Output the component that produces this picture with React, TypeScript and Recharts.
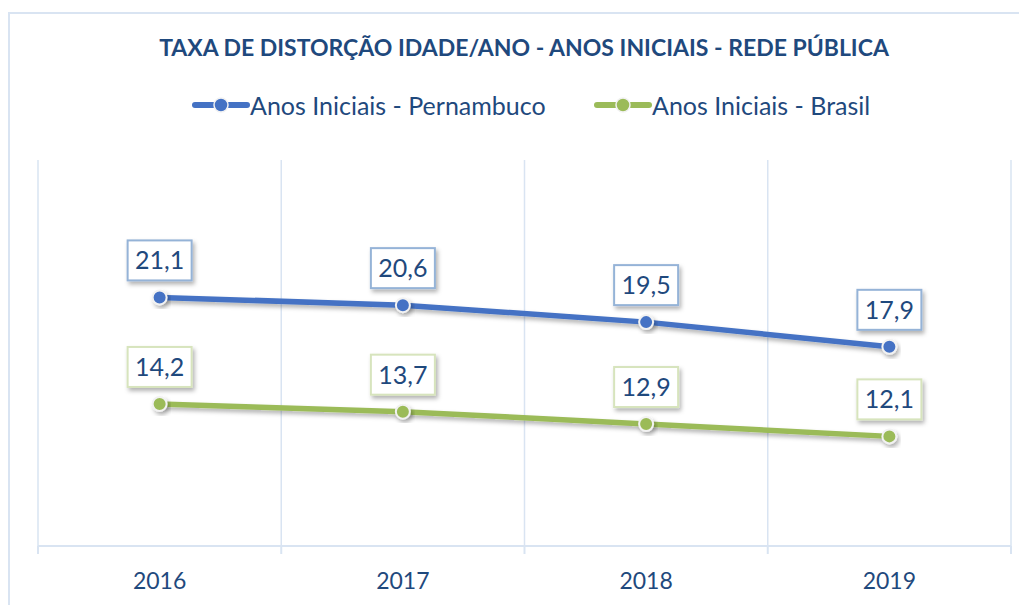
import { CartesianGrid, LabelList, Line, LineChart, XAxis, YAxis } from "recharts";

const years = ["2016", "2017", "2018", "2019"];
const pernambuco = [21.1, 20.6, 19.5, 17.9];
const brasil = [14.2, 13.7, 12.9, 12.1];
const gridTicks = [0, 1, 2, 3, 4];

const BLUE = "#4472c4";
const GREEN = "#9bbb59";
const TEXT = "#1f497d";
const GRID = "#d9e4f2";
const FONT = "Lato, 'Open Sans', sans-serif";

const data = years.map((year, i) => ({
	year,
	pe: pernambuco[i],
	br: brasil[i],
}));

const fmt = (v: number) => v.toFixed(1).replace(".", ",");

function makeLabel(border: string) {
	return (props: any) => {
		const { x, y, value } = props;
		const w = 64;
		const h = 40;
		return (
			<g>
				<rect
					x={x - w / 2}
					y={y - 17 - h}
					width={w}
					height={h}
					fill="#ffffff"
					stroke={border}
					strokeWidth={2}
					filter="url(#shadow)"
				/>
				<text
					x={x}
					y={y - 17 - h / 2 + 9}
					textAnchor="middle"
					fill={TEXT}
					fontSize={25}
					fontFamily={FONT}
				>
					{fmt(Number(value))}
				</text>
			</g>
		);
	};
}

function LegendItem({ color, label, width }: { color: string; label: string; width: number }) {
	return (
		<div style={{ display: "flex", alignItems: "center", width }}>
			<svg width={58} height={18}>
				<line x1={3} y1={9} x2={55} y2={9} stroke={color} strokeWidth={6} strokeLinecap="round" />
				<circle cx={29} cy={9} r={7} fill={color} stroke="#f2f2f2" strokeWidth={1.5} />
			</svg>
			<span style={{ fontSize: 25, color: TEXT, fontFamily: FONT }}>{label}</span>
		</div>
	);
}

export default function App() {
	return (
		<div
			style={{
				position: "relative",
				width: 1019,
				height: 597,
				fontFamily: FONT,
			}}
		>
			<div
				style={{
					position: "absolute",
					left: 0,
					top: 4,
					width: 1030,
					height: 600,
					borderTop: `2px solid ${GRID}`,
					borderLeft: `2px solid ${GRID}`,
				}}
			/>
			<div
				style={{
					position: "absolute",
					left: 0,
					top: 25,
					width: 1032,
					textAlign: "center",
					fontSize: 23,
					fontWeight: 700,
					color: TEXT,
				}}
			>
				TAXA DE DISTORÇÃO IDADE/ANO - ANOS INICIAIS - REDE PÚBLICA
			</div>
			<div
				style={{
					position: "absolute",
					left: 184,
					top: 82,
					display: "flex",
				}}
			>
				<LegendItem color={BLUE} label="Anos Iniciais - Pernambuco" width={402} />
				<LegendItem color={GREEN} label="Anos Iniciais - Brasil" width={300} />
			</div>
			<LineChart
				width={1019}
				height={597}
				data={data}
				margin={{ top: 152, right: 16, left: 30, bottom: 0 }}
				style={{ position: "absolute", left: 0, top: 0 }}
			>
				<defs>
					<filter id="shadow" x="-30%" y="-30%" width="160%" height="160%">
						<feDropShadow dx={2} dy={3} stdDeviation={2} floodColor="#000000" floodOpacity={0.3} />
					</filter>
				</defs>
				<CartesianGrid
					xAxisId="a"
					horizontal={false}
					stroke={GRID}
					strokeWidth={1.5}
				/>
				<XAxis
					xAxisId="a"
					type="number"
					dataKey={(d: any) => years.indexOf(d.year)}
					domain={[0, 4]}
					allowDataOverflow
					ticks={gridTicks}
					height={10}
					tickSize={8}
					stroke={GRID}
					strokeWidth={2}
					tick={() => <g />}
				/>
				<XAxis
					xAxisId="b"
					dataKey="year"
					scale="band"
					height={49}
					axisLine={false}
					tickLine={false}
					tick={{ fill: TEXT, fontSize: 23, fontFamily: FONT }}
					tickMargin={11}
				/>
				<YAxis hide domain={[5, 30]} />
				<Line
					xAxisId="b"
					type="linear"
					dataKey="pe"
					stroke={BLUE}
					strokeWidth={5.5}
					filter="url(#shadow)"
					dot={{ r: 7, fill: BLUE, stroke: "#f2f2f2", strokeWidth: 2 }}
					isAnimationActive={false}
				>
					<LabelList dataKey="pe" content={makeLabel("#95b3d7")} />
				</Line>
				<Line
					xAxisId="b"
					type="linear"
					dataKey="br"
					stroke={GREEN}
					strokeWidth={5.5}
					filter="url(#shadow)"
					dot={{ r: 7, fill: GREEN, stroke: "#f2f2f2", strokeWidth: 2 }}
					isAnimationActive={false}
				>
					<LabelList dataKey="br" content={makeLabel("#d7e4bd")} />
				</Line>
			</LineChart>
		</div>
	);
}
